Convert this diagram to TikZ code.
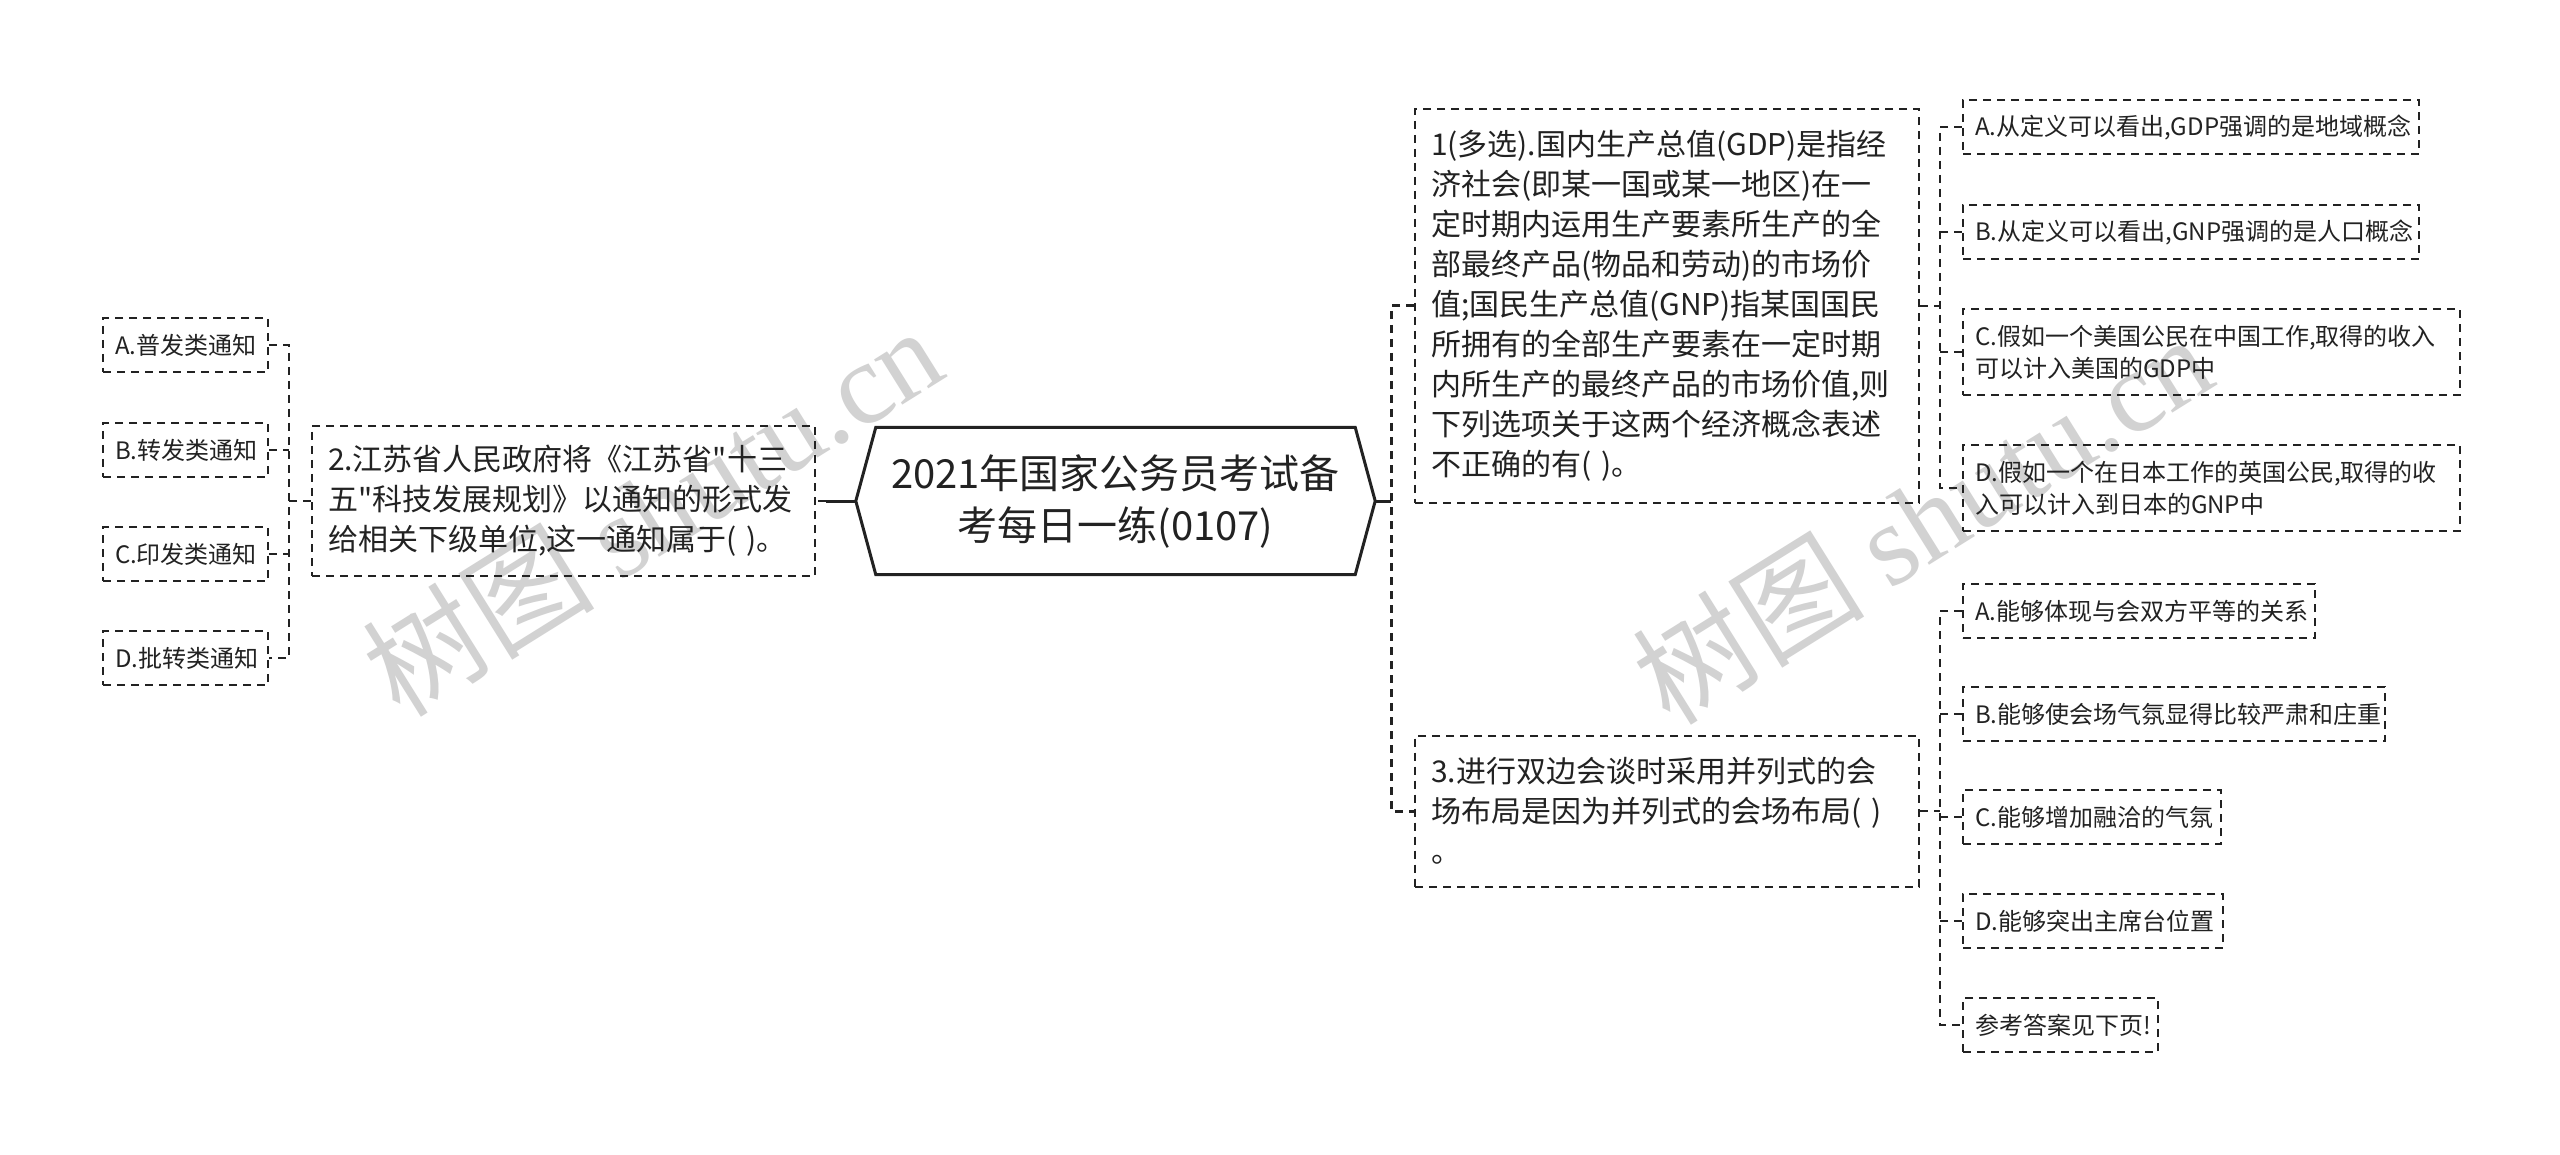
\documentclass[tikz,border=0pt]{standalone}
\usepackage{fontspec}
\setmainfont{Noto Sans CJK SC}[Ligatures=TeXOff]
\newfontfamily\wmserif{Liberation Serif}
\usetikzlibrary{calc}
\definecolor{ink}{RGB}{34,34,34}
\definecolor{wm}{RGB}{210,210,210}
\begin{document}
\begin{tikzpicture}[x=1pt,y=-1pt,
  every node/.style={text=ink, inner sep=0pt},
  dashbox/.style={draw=ink, line width=2pt, dash pattern=on 8pt off 6pt, align=left},
  bigbox/.style={dashbox, anchor=west, inner xsep=16pt, inner ysep=0pt, font=\fontsize{30}{40}\selectfont},
  kidbox/.style={dashbox, anchor=west, inner xsep=12pt, inner ysep=0pt, font=\fontsize{24}{32}\selectfont},
  trunksolid/.style={draw=ink, line width=3pt},
  trunkdash/.style={draw=ink, line width=3pt, dash pattern=on 8pt off 6pt},
  branch/.style={draw=ink, line width=2pt, dash pattern=on 8pt off 6pt},
  wmark/.style={text=wm, rotate=32, font=\fontsize{116}{116}\selectfont}
]
\useasboundingbox (0,0) rectangle (2560,1155);
\fill[white] (0,0) rectangle (2560,1155);

% watermarks
\node[wmark] (wm1) at (652,510) {树图 {\wmserif shutu.cn}};
\node[wmark] (wm2) at (1922,518) {树图 {\wmserif shutu.cn}};

% root
\node[font=\fontsize{40}{52}\selectfont, align=center, minimum width=519pt, minimum height=147pt] (root) at (1115.5,501) {2021年国家公务员考试备\\考每日一练(0107)};
\draw[draw=ink, line width=3pt, line join=miter]
  ([xshift=20pt]root.north west) -- ([xshift=-20pt]root.north east) -- (root.east)
  -- ([xshift=-20pt]root.south east) -- ([xshift=20pt]root.south west) -- (root.west) -- cycle;

% main questions
\node[bigbox, text width=472pt, minimum height=394pt] (b1) at (1414,306) {1(多选).国内生产总值(GDP)是指经\\济社会(即某一国或某一地区)在一\\定时期内运用生产要素所生产的全\\部最终产品(物品和劳动)的市场价\\值;国民生产总值(GNP)指某国国民\\所拥有的全部生产要素在一定时期\\内所生产的最终产品的市场价值,则\\下列选项关于这两个经济概念表述\\不正确的有( )。};
\node[bigbox, text width=472pt, minimum height=151pt] (b3) at (1414,811) {3.进行双边会谈时采用并列式的会\\场布局是因为并列式的会场布局( )\\。};
\node[bigbox, text width=471pt, minimum height=150pt] (b2) at (311,501) {2.江苏省人民政府将《江苏省"十三\\五"科技发展规划》以通知的形式发\\给相关下级单位,这一通知属于( )。};

% options of question 1
\node[kidbox, text width=432pt, minimum height=54pt] (r1a) at (1962,127) {A.从定义可以看出,GDP强调的是地域概念};
\node[kidbox, text width=432pt, minimum height=54pt] (r1b) at (1962,232) {B.从定义可以看出,GNP强调的是人口概念};
\node[kidbox, text width=473pt, minimum height=86pt] (r1c) at (1962,352) {C.假如一个美国公民在中国工作,取得的收入\\可以计入美国的GDP中};
\node[kidbox, text width=473pt, minimum height=86pt] (r1d) at (1962,488) {D.假如一个在日本工作的英国公民,取得的收\\入可以计入到日本的GNP中};

% options of question 3
\node[kidbox, text width=328pt, minimum height=54pt] (r3a) at (1962,611) {A.能够体现与会双方平等的关系};
\node[kidbox, text width=398pt, minimum height=54pt] (r3b) at (1962,714) {B.能够使会场气氛显得比较严肃和庄重};
\node[kidbox, text width=234pt, minimum height=54pt] (r3c) at (1962,817) {C.能够增加融洽的气氛};
\node[kidbox, text width=236pt, minimum height=54pt] (r3d) at (1962,921) {D.能够突出主席台位置};
\node[kidbox, text width=171pt, minimum height=54pt] (r3e) at (1962,1025) {参考答案见下页!};

% options of question 2
\node[kidbox, text width=141pt, minimum height=54pt] (l1) at (102,345) {A.普发类通知};
\node[kidbox, text width=141pt, minimum height=54pt] (l2) at (102,450) {B.转发类通知};
\node[kidbox, text width=141pt, minimum height=54pt] (l3) at (102,554) {C.印发类通知};
\node[kidbox, text width=141pt, minimum height=54pt] (l4) at (102,658) {D.批转类通知};

% junction coordinates
\coordinate (jr) at (1391,501);
\coordinate (jl) at (826,501);
\coordinate (k1) at (1940,306);
\coordinate (k3) at (1940,811);
\coordinate (kl) at (289,501);

% connectors root
\draw[trunksolid] (root.east) -- (jr);
\draw[trunkdash] (b1.west) -| (jr) |- (b3.west);
\draw[trunksolid] (root.west) -- (jl);
\draw[branch] (jl) -- (b2.east);

% connectors question 1
\draw[branch] (b1.east) -- (k1);
\draw[branch] (r1a.west) -| (k1) |- (r1d.west);
\draw[branch] (r1b.west) -- (r1b.west -| k1);
\draw[branch] (r1c.west) -- (r1c.west -| k1);

% connectors question 3
\draw[branch] (b3.east) -- (k3);
\draw[branch] (r3a.west) -| (k3) |- (r3e.west);
\draw[branch] (r3b.west) -- (r3b.west -| k3);
\draw[branch] (r3c.west) -- (r3c.west -| k3);
\draw[branch] (r3d.west) -- (r3d.west -| k3);

% connectors question 2
\draw[branch] (b2.west) -- (kl);
\draw[branch] (l1.east) -| (kl) |- (l4.east);
\draw[branch] (l2.east) -- (l2.east -| kl);
\draw[branch] (l3.east) -- (l3.east -| kl);
\end{tikzpicture}
\end{document}
